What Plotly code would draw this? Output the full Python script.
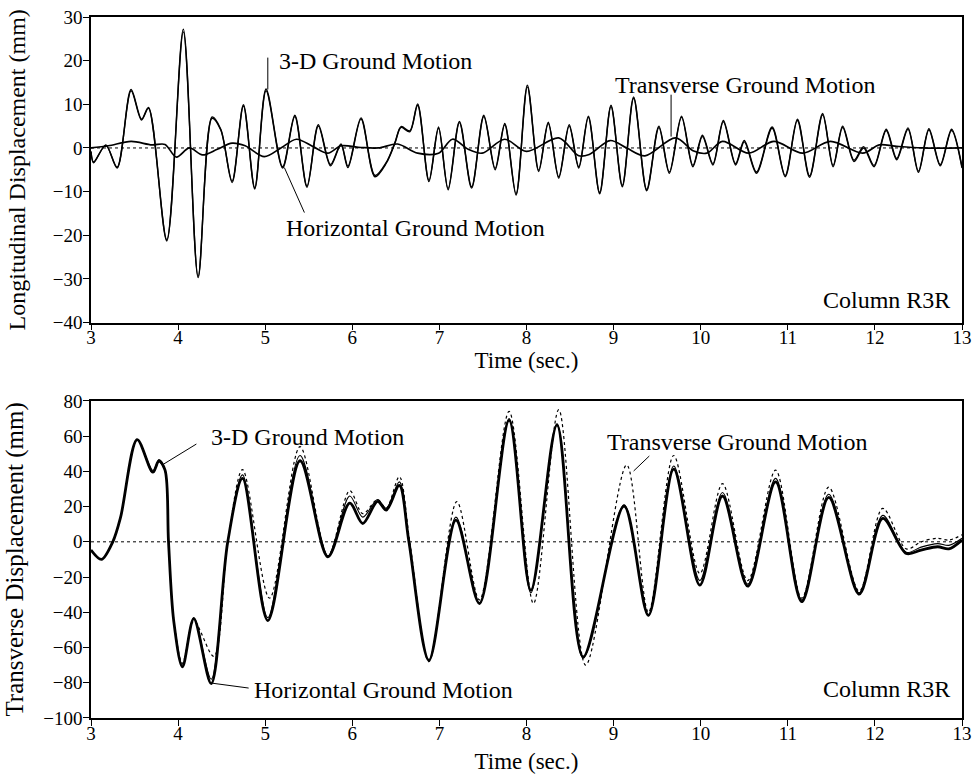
import plotly.graph_objects as go

# ---------------- Top panel: Longitudinal displacement ----------------
top_3d_t = [3.00, 3.03, 3.17, 3.30, 3.46, 3.58, 3.66, 3.87, 4.06, 4.23, 4.39, 4.49, 4.62, 4.75, 4.88,
            5.01, 5.20, 5.34, 5.48, 5.61, 5.75, 5.87, 5.95, 6.10, 6.26, 6.39, 6.49, 6.56, 6.66, 6.75,
            6.88, 6.99, 7.10, 7.23, 7.37, 7.51, 7.64, 7.75, 7.88, 8.01, 8.14, 8.25, 8.37, 8.49, 8.60,
            8.71, 8.84, 8.97, 9.10, 9.23, 9.38, 9.52, 9.64, 9.78, 9.91, 10.02, 10.14, 10.26, 10.40,
            10.50, 10.64, 10.82, 10.97, 11.11, 11.25, 11.40, 11.52, 11.63, 11.76, 11.87, 11.99, 12.13,
            12.25, 12.38, 12.50, 12.62, 12.75, 12.88, 13.00]
top_3d_v = [-0.8, -3.4, 0.7, -4.6, 13.1, 6.4, 9.1, -21.3, 26.6, -29.7, 6.8, 4.1, -7.9, 9.6, -9.4,
            13.1, -4.6, 7.2, -9.0, 5.0, -4.1, 0.7, -4.5, 6.6, -6.6, -3.5, 1.1, 4.7, 3.7, 9.8,
            -7.7, 4.5, -9.6, 5.8, -9.2, 7.2, -5.0, 5.3, -10.8, 14.0, -5.4, 5.6, -6.9, 5.0, -4.6,
            7.0, -10.5, 9.5, -8.9, 11.4, -9.8, 4.7, -5.8, 7.0, -4.3, 2.6, -3.9, 6.0, -3.9,
            1.4, -5.8, 4.5, -6.6, 6.3, -6.7, 7.6, -4.3, 4.7, -3.1, 0.0, -4.3, 4.0,
            -2.7, 4.3, -5.6, 4.1, -4.1, 4.0, -4.6]
top_hor_v = [-0.8, -3.2, 0.6, -4.4, 13.4, 6.6, 9.3, -21.0, 27.2, -29.4, 7.1, 4.3, -7.6, 9.9, -9.1,
             13.5, -4.3, 7.5, -8.7, 5.3, -3.8, 0.9, -4.2, 6.9, -6.3, -3.3, 1.3, 4.9, 3.9, 10.1,
             -7.4, 4.8, -9.3, 6.1, -8.9, 7.5, -4.7, 5.6, -10.5, 14.4, -5.1, 5.9, -6.6, 5.3, -4.3,
             7.3, -10.2, 9.8, -8.6, 11.7, -9.5, 5.0, -5.5, 7.3, -4.0, 2.9, -3.6, 6.3, -3.6,
             1.7, -5.5, 4.8, -6.3, 6.6, -6.4, 7.9, -4.0, 5.0, -2.8, 0.3, -4.0, 4.3,
             -2.4, 4.6, -5.3, 4.4, -3.8, 4.3, -4.3]
top_tr_t = [3.0, 3.2, 3.46, 3.7, 3.85, 3.98, 4.13, 4.28, 4.45, 4.62, 4.77, 4.99, 5.18, 5.36, 5.55,
            5.72, 5.87, 6.1, 6.3, 6.52, 6.75, 6.99, 7.15, 7.33, 7.49, 7.75, 8.0, 8.37, 8.60, 8.72,
            8.96, 9.15, 9.36, 9.71, 9.92, 10.07, 10.25, 10.55, 10.84, 11.17, 11.49, 11.86, 12.05,
            12.23, 12.54, 13.0]
top_tr_v = [0.0, 0.5, 1.5, 0.7, 0.8, -2.1, 0.0, -1.6, -0.3, 1.1, 0.5, -2.0, 0.0, 2.0, 0.3,
            -1.2, 0.5, 0.1, 0.0, 0.9, -1.2, -1.2, 2.0, -0.3, -1.2, 2.0, -0.8, 2.3, -1.8, -1.5,
            1.7, 0.0, -1.8, 2.3, -0.7, -1.2, 1.5, -1.2, 1.5, -1.2, 1.5, -1.2, 0.7,
            0.4, 0.0, 0.0]

# ---------------- Bottom panel: Transverse displacement ----------------
bot_t = [3.00, 3.12, 3.25, 3.34, 3.53, 3.71, 3.78, 3.85, 3.89, 3.95, 4.05, 4.18, 4.38, 4.57, 4.74,
         5.03, 5.40, 5.72, 5.97, 6.12, 6.29, 6.39, 6.54, 6.65, 6.88, 7.19, 7.46, 7.80, 8.05, 8.35,
         8.65, 9.12, 9.40, 9.69, 9.99, 10.25, 10.54, 10.86, 11.16, 11.47, 11.82, 12.09, 12.36,
         12.53, 12.72, 12.85, 13.00]
bot_hor_v = [-4.7, -10.0, 0.0, 14.0, 58.0, 39.5, 46.0, 40.7, 0.0, -45.0, -71.0, -43.6, -80.5, 0.0, 36.0,
             -44.7, 46.0, -8.5, 22.0, 10.4, 23.0, 18.0, 32.0, 0.0, -67.3, 12.3, -35.0, 69.0, -27.5, 66.3,
             -65.3, 20.3, -41.7, 41.3, -24.6, 26.0, -25.2, 34.0, -34.0, 25.2, -29.7, 13.3, -6.6,
             -4.7, -2.8, -4.0, 1.0]
bot_3d_v = [-4.7, -10.0, 0.0, 14.0, 58.0, 40.5, 46.5, 41.0, 0.0, -45.0, -70.0, -43.0, -78.0, 0.0, 38.0,
            -43.0, 49.0, -8.0, 26.0, 14.0, 24.0, 19.0, 34.0, 0.0, -67.3, 14.0, -35.0, 70.0, -29.0, 67.0,
            -66.0, 21.0, -42.0, 43.0, -22.0, 28.0, -24.0, 36.0, -33.0, 27.0, -29.0, 15.0, -6.0,
            -3.0, -1.0, -2.0, 2.0]
bot_tr_t = [3.00, 3.12, 3.25, 3.34, 3.53, 3.71, 3.78, 3.85, 3.89, 3.95, 4.05, 4.18, 4.41, 4.57, 4.74,
            5.05, 5.40, 5.72, 5.97, 6.12, 6.29, 6.39, 6.54, 6.66, 6.88, 7.20, 7.46, 7.80, 8.08, 8.37,
            8.68, 9.15, 9.40, 9.69, 9.99, 10.25, 10.54, 10.86, 11.16, 11.47, 11.82, 12.09, 12.36,
            12.53, 12.72, 12.85, 13.00]
bot_tr_v = [-4.7, -10.0, 0.0, 14.0, 58.0, 39.0, 45.5, 40.0, 0.0, -44.0, -69.0, -45.0, -65.0, 0.0, 41.0,
            -32.0, 54.0, -8.0, 29.0, 16.0, 24.0, 19.0, 37.0, 0.0, -68.0, 22.8, -33.0, 74.0, -35.0, 75.0,
            -70.0, 43.6, -40.0, 49.0, -18.0, 33.0, -22.0, 40.7, -32.0, 31.0, -28.0, 19.0, -4.0,
            0.0, 2.0, 1.0, 4.0]

x_ticks = [3, 4, 5, 6, 7, 8, 9, 10, 11, 12, 13]
top_y_ticks = [30, 20, 10, 0, -10, -20, -30, -40]
bot_y_ticks = [80, 60, 40, 20, 0, -20, -40, -60, -80, -100]

FONT = "Liberation Serif"
fig = go.Figure()

# top traces
fig.add_trace(go.Scatter(x=top_tr_t, y=top_tr_v, mode="lines", line=dict(color="black", width=1.7, shape="spline", smoothing=0.9),
                         xaxis="x", yaxis="y", name="Transverse"))
fig.add_trace(go.Scatter(x=top_3d_t, y=top_hor_v, mode="lines", line=dict(color="black", width=1.4, shape="spline", smoothing=0.9),
                         xaxis="x", yaxis="y", name="Horizontal"))
fig.add_trace(go.Scatter(x=top_3d_t, y=top_3d_v, mode="lines", line=dict(color="black", width=1.4, shape="spline", smoothing=0.9),
                         xaxis="x", yaxis="y", name="3-D"))

# bottom traces
fig.add_trace(go.Scatter(x=bot_tr_t, y=bot_tr_v, mode="lines", line=dict(color="black", width=1.2, dash="dot", shape="spline", smoothing=0.9),
                         xaxis="x2", yaxis="y2", name="Transverse"))
fig.add_trace(go.Scatter(x=bot_t, y=bot_3d_v, mode="lines", line=dict(color="black", width=1.1, shape="spline", smoothing=0.9),
                         xaxis="x2", yaxis="y2", name="3-D"))
fig.add_trace(go.Scatter(x=bot_t, y=bot_hor_v, mode="lines", line=dict(color="black", width=2.8, shape="spline", smoothing=0.9),
                         xaxis="x2", yaxis="y2", name="Horizontal"))

axis_common = dict(showline=True, linecolor="black", linewidth=1.5, mirror=True, ticks="outside",
                   ticklen=6, tickcolor="black", tickwidth=1, showgrid=False, zeroline=False,
                   automargin=False, tickfont=dict(family=FONT, size=19, color="black"))

fig.update_layout(
    width=979, height=778,
    margin=dict(l=91, r=17, t=17, b=60),
    paper_bgcolor="white", plot_bgcolor="white",
    showlegend=False,
    font=dict(family=FONT, color="black"),
    xaxis=dict(axis_common, domain=[0, 1], range=[3, 13], tickvals=x_ticks, anchor="y", ticklabelstandoff=-9,
               title=dict(text="Time (sec.)", font=dict(family=FONT, size=23), standoff=4)),
    yaxis=dict(axis_common, domain=[0.5641, 1], range=[-40, 30], tickvals=top_y_ticks, anchor="x", ticklabelstandoff=-3,
               title=dict(text="Longitudinal Displacement (mm)", font=dict(family=FONT, size=24), standoff=20)),
    xaxis2=dict(axis_common, domain=[0, 1], range=[3, 13], tickvals=x_ticks, anchor="y2", ticklabelstandoff=-9,
                title=dict(text="Time (sec.)", font=dict(family=FONT, size=23), standoff=10)),
    yaxis2=dict(axis_common, domain=[0, 0.4524], range=[-100, 80], tickvals=bot_y_ticks, anchor="x2", ticklabelstandoff=-3,
                title=dict(text="Transverse Displacement (mm)", font=dict(family=FONT, size=25), standoff=12)),
)

# dotted zero lines
for yr, xr in (("y", "x"), ("y2", "x2")):
    fig.add_shape(type="line", xref=f"{xr} domain", x0=0, x1=1, yref=yr, y0=0, y1=0,
                  line=dict(color="black", width=1, dash="dot"), layer="below")

def label(text, x, y, xr, yr, anchor="left"):
    fig.add_annotation(text=text, x=x, y=y, xref=xr, yref=yr, showarrow=False,
                       xanchor=anchor, yanchor="middle", font=dict(family=FONT, size=24, color="black"))

def pointer(x0, y0, x1, y1, xr, yr):
    fig.add_shape(type="line", x0=x0, y0=y0, x1=x1, y1=y1, xref=xr, yref=yr,
                  line=dict(color="black", width=1))

# top annotations
label("3-D Ground Motion", 5.14, 20.0, "x", "y")
pointer(5.03, 20.7, 5.03, 13.4, "x", "y")
label("Horizontal Ground Motion", 5.22, -18.3, "x", "y")
pointer(5.22, -4.5, 5.45, -14.8, "x", "y")
label("Transverse Ground Motion", 8.99, 14.5, "x", "y")
pointer(9.66, 12.2, 9.66, 2.6, "x", "y")
label("Column R3R", 12.88, -34.8, "x", "y", anchor="right")

# bottom annotations
label("3-D Ground Motion", 4.35, 59.7, "x2", "y2")
pointer(4.21, 55.5, 3.83, 44.0, "x2", "y2")
label("Horizontal Ground Motion", 4.85, -84.3, "x2", "y2")
pointer(4.40, -80.3, 4.81, -83.0, "x2", "y2")
label("Transverse Ground Motion", 8.90, 56.8, "x2", "y2")
pointer(9.41, 48.7, 9.23, 40.2, "x2", "y2")
label("Column R3R", 12.88, -83.7, "x2", "y2", anchor="right")

fig.write_html("out.html")
